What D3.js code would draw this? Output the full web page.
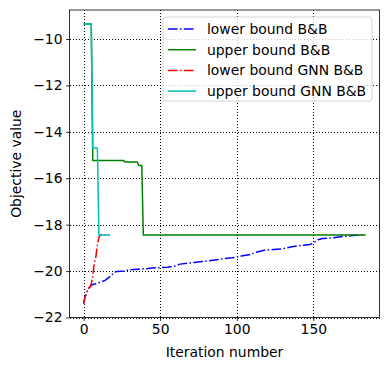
<!DOCTYPE html>
<html>
<head>
<meta charset="utf-8">
<script src="https://cdn.jsdelivr.net/npm/d3@7"></script>
<style>
body { margin: 0; background: #fff; }
text { font-family: "DejaVu Sans", sans-serif; }
</style>
</head>
<body>
<div id="chart"></div>
<script>
// data
var iterLowerBB = [0, 1, 2, 3, 4, 5, 6, 8, 10, 12, 14, 16, 18, 20, 22, 26, 30, 35, 40, 45, 50, 55, 60, 63, 68, 72, 76, 82, 88, 92, 97, 103, 108, 112, 118, 124, 130, 136, 142, 148, 151, 153, 156, 162, 168, 174, 178, 184];
var lowerBB = [-21.4, -21.1, -20.95, -20.75, -20.7, -20.62, -20.58, -20.55, -20.5, -20.45, -20.4, -20.3, -20.2, -20.05, -20.02, -20.0, -19.95, -19.92, -19.9, -19.87, -19.85, -19.83, -19.78, -19.7, -19.66, -19.63, -19.6, -19.55, -19.5, -19.46, -19.43, -19.35, -19.3, -19.2, -19.1, -19.07, -19.04, -18.95, -18.9, -18.85, -18.75, -18.65, -18.6, -18.57, -18.52, -18.48, -18.46, -18.45];

var iterUpperBB = [0, 5, 6, 26, 27, 35, 36, 38, 39, 184];
var upperBB = [-9.35, -9.35, -15.23, -15.23, -15.3, -15.3, -15.45, -15.45, -18.45, -18.45];

var iterLowerGNN = [0, 1, 2, 3, 4, 5, 6, 7, 8, 9, 10, 11, 17];
var lowerGNN = [-21.4, -21.1, -20.95, -20.75, -20.7, -20.55, -20.2, -19.65, -19.4, -18.85, -18.55, -18.45, -18.45];

var iterUpperGNN = [0, 5, 6, 9, 10, 17];
var upperGNN = [-9.35, -9.35, -14.7, -14.7, -18.45, -18.45];

var xTicks = [0, 50, 100, 150];
var yTicks = [-22, -20, -18, -16, -14, -12, -10];

var seriesNames = ["lower bound B&B", "upper bound B&B", "lower bound GNN B&B", "upper bound GNN B&B"];
var seriesColors = ["#0000ff", "#008000", "#ff0000", "#00bfbf"];
var seriesDash = ["9.6,2.4,1.5,2.4", null, "9.6,2.4,1.5,2.4", null];

var W = 388, H = 371;
var margin = {top: 10, right: 8.5, bottom: 53.5, left: 69.5},
    width = W - margin.left - margin.right,
    height = H - margin.top - margin.bottom;

var x = d3.scaleLinear().domain([-9.2, 193.2]).range([0, width]);
var y = d3.scaleLinear().domain([-22.0, -8.75]).range([height, 0]);

var svg = d3.select("#chart").append("svg")
  .attr("width", W)
  .attr("height", H);

var g = svg.append("g")
  .attr("transform", "translate(" + margin.left + "," + margin.top + ")");

g.append("clipPath").attr("id", "clip")
  .append("rect").attr("width", width).attr("height", height);

// grid, black dotted
var px = function(v) { return Math.round(v + margin.left) - margin.left + 0.5; };
var py = function(v) { return Math.round(v + margin.top) - margin.top + 0.5; };
g.selectAll(".gx").data(xTicks).enter().append("line")
  .attr("x1", function(d) { return px(x(d)); }).attr("x2", function(d) { return px(x(d)); })
  .attr("y1", 0).attr("y2", height)
  .attr("stroke", "#000").attr("stroke-width", 1).attr("stroke-dasharray", "1,2")
  .attr("shape-rendering", "crispEdges");
g.selectAll(".gy").data(yTicks).enter().append("line")
  .attr("y1", function(d) { return py(y(d)); }).attr("y2", function(d) { return py(y(d)); })
  .attr("x1", 0).attr("x2", width)
  .attr("stroke", "#000").attr("stroke-width", 1).attr("stroke-dasharray", "1,2")
  .attr("shape-rendering", "crispEdges");

var series = [
  {xs: iterLowerBB, ys: lowerBB},
  {xs: iterUpperBB, ys: upperBB},
  {xs: iterLowerGNN, ys: lowerGNN},
  {xs: iterUpperGNN, ys: upperGNN}
];

var line = d3.line()
  .x(function(d) { return x(d[0]); })
  .y(function(d) { return y(d[1]); });

var plot = g.append("g").attr("clip-path", "url(#clip)");
series.forEach(function(s, i) {
  var pts = s.xs.map(function(v, j) { return [v, s.ys[j]]; });
  plot.append("path")
    .datum(pts)
    .attr("d", line)
    .attr("fill", "none")
    .attr("stroke", seriesColors[i])
    .attr("stroke-width", 1.5)
    .attr("stroke-linejoin", "round")
    .attr("stroke-dasharray", seriesDash[i]);
});

// axes
var xAxis = g.append("g")
  .attr("transform", "translate(0," + height + ")")
  .call(d3.axisBottom(x).tickValues(xTicks).tickSize(3.5).tickPadding(3.5));
var yAxis = g.append("g")
  .call(d3.axisLeft(y).tickValues(yTicks).tickSize(3.5).tickPadding(3.5)
    .tickFormat(function(d) { return "\u2212" + Math.abs(d); }));
[xAxis, yAxis].forEach(function(a) {
  a.select(".domain").remove();
  a.selectAll("line").attr("stroke", "#000").attr("stroke-width", 0.8);
  a.selectAll("text").attr("font-size", "13.9px").attr("fill", "#000")
    .style("font-family", "DejaVu Sans");
});

g.append("rect")
  .attr("width", width).attr("height", height)
  .attr("fill", "none").attr("stroke", "#000").attr("stroke-width", 0.8);

// axis titles
svg.append("text")
  .attr("x", margin.left + width / 2).attr("y", 357)
  .attr("text-anchor", "middle").attr("font-size", "13.9px")
  .text("Iteration number");
svg.append("text")
  .attr("transform", "translate(21," + (margin.top + height / 2) + ")rotate(-90)")
  .attr("text-anchor", "middle").attr("font-size", "13.9px")
  .text("Objective value");

// legend
var lg = svg.append("g").attr("transform", "translate(163,17)");
lg.append("rect")
  .attr("width", 209).attr("height", 84).attr("rx", 3)
  .attr("fill", "#fff").attr("fill-opacity", 0.8)
  .attr("stroke", "#cccccc").attr("stroke-width", 0.8);
seriesNames.forEach(function(name, i) {
  var cy = 12 + i * 20.7;
  lg.append("line")
    .attr("x1", 5).attr("x2", 33).attr("y1", cy).attr("y2", cy)
    .attr("stroke", seriesColors[i]).attr("stroke-width", 1.5)
    .attr("stroke-dasharray", seriesDash[i]);
  lg.append("text")
    .attr("x", 44).attr("y", cy + 5)
    .attr("font-size", "13.9px")
    .text(name);
});
</script>
</body>
</html>
